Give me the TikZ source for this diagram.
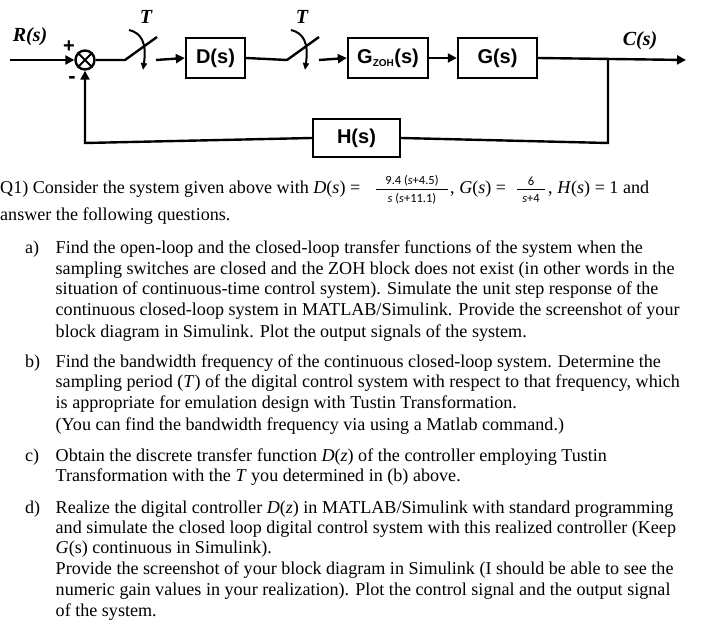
\documentclass[tikz,border=0pt]{standalone}
\usepackage{fontspec}
\setmainfont{Liberation Serif}
\newfontfamily\dsans{Liberation Sans}
\newfontfamily\fsans{Carlito}
\usetikzlibrary{arrows.meta}
\begin{document}
\begin{tikzpicture}[x=1pt,y=-1pt,
  blk/.style={draw,line width=2.4pt,minimum height=40pt,font=\dsans\bfseries\fontsize{20}{20}\selectfont,inner sep=0pt},
  wire/.style={line width=2.4pt},
  arr/.style={line width=2.4pt,-{Triangle[length=9pt,width=9pt]}},
  lab/.style={font=\bfseries\itshape\fontsize{20}{20}\selectfont},
  tl/.style={anchor=base west,inner sep=0pt,font=\fontsize{18.1}{21}\selectfont},
  fr/.style={inner sep=0pt,font=\fsans\fontsize{12.5}{12.5}\selectfont}]
\useasboundingbox (0,0) rectangle (705,631);
% diagram
\coordinate (in) at (10,60);
\node[draw,circle,line width=2.4pt,minimum size=19pt,inner sep=0pt] (sum) at (85,60) {};
\draw[line width=2pt] (sum.north west)--(sum.south east) (sum.north east)--(sum.south west);
\node[blk,minimum width=59pt] (D) at (215.5,58) {D(s)};
\node[blk,minimum width=80pt] (Gz) at (388,58) {G\textsubscript{\fontsize{10}{10}\selectfont ZOH}(s)};
\node[blk,minimum width=79pt] (G) at (497.5,58) {G(s)};
\node[blk,minimum width=87pt,minimum height=38pt] (H) at (356.5,138) {H(s)};
\coordinate (s1a) at (125,60); \coordinate (s1b) at (157,37); \coordinate (s1c) at (156,60);
\coordinate (s2a) at (287,60); \coordinate (s2b) at (319,37); \coordinate (s2c) at (319,60);
\coordinate (br) at (608,60); \coordinate (out) at (686,60);
\coordinate (fbr) at (608,143); \coordinate (fbl) at (85,143);
\draw[arr] (in) -- (sum.west);
\draw[wire] (sum.east) -- (s1a) -- (s1b);
\draw[line width=2pt,-{Triangle[length=7pt,width=6pt]}] (129,30) .. controls (141,33) and (147,42) .. (143,70);
\draw[arr] (s1c) -- (D.west);
\draw[wire] (D.east) -- (s2a) -- (s2b);
\draw[line width=2pt,-{Triangle[length=7pt,width=6pt]}] (291,30) .. controls (303,33) and (309,42) .. (305,70);
\draw[arr] (s2c) -- (Gz.west);
\draw[arr] (Gz.east) -- (G.west);
\draw[arr] (G.east) -- (out);
\draw[wire] (br) -- (fbr) -- (H.east);
\draw[arr] (H.west) -- (fbl) -- (sum.south);
\node[lab] (R) at (30,37) {R(s)};
\node[lab] (C) at (640,41) {C(s)};
\node[lab] (T1) at (146,17) {T};
\node[lab] (T2) at (302,17) {T};
\node[font=\dsans\bfseries\fontsize{20}{20}\selectfont] (plus) at (69,47) {+};
\node[font=\dsans\bfseries\fontsize{22}{22}\selectfont] (minus) at (72,80) {-};
% text
\node[tl] (q1) at (0,194) {Q1) Consider the system given above with \textit{D}(\textit{s}) =};
\node[fr] (n1) at (412,181) {9.4 (\textit{s}+4.5)};
\draw[line width=0.7pt] (376,189)--(448,189);
\node[fr] (d1) at (412,199) {\textit{s} (\textit{s}+11.1)};
\node[tl] (q1b) at (450,194) {, \textit{G}(\textit{s}) =};
\node[fr] (n2) at (531,181) {6};
\draw[line width=0.7pt] (517,189)--(545,189);
\node[fr] (d2) at (531,199) {\textit{s}+4};
\node[tl] (q1c) at (548,194) {, \textit{H}(\textit{s}) = 1 and};
\node[tl] (q2) at (0,221) {answer the following questions.};
\foreach \l/\y in {a)/254,b)/368,c)/461,d)/513}
  \node[tl] at (25,\y) {\l};
\foreach \t/\y in {
 {Find the open-loop and the closed-loop transfer functions of the system when the}/254,
 {sampling switches are closed and the ZOH block does not exist (in other words in the}/275,
 {situation of continuous-time control system). Simulate the unit step response of the}/295,
 {continuous closed-loop system in MATLAB/Simulink. Provide the screenshot of your}/316,
 {block diagram in Simulink. Plot the output signals of the system.}/338,
 {Find the bandwidth frequency of the continuous closed-loop system. Determine the}/368,
 {sampling period (\textit{T}) of the digital control system with respect to that frequency, which}/388,
 {is appropriate for emulation design with Tustin Transformation.}/409,
 {(You can find the bandwidth frequency via using a Matlab command.)}/430,
 {Obtain the discrete transfer function \textit{D}(\textit{z}) of the controller employing Tustin}/461,
 {Transformation with the \textit{T} you determined in (b) above.}/481,
 {Realize the digital controller \textit{D}(\textit{z}) in MATLAB/Simulink with standard programming}/513,
 {and simulate the closed loop digital control system with this realized controller (Keep}/533,
 {\textit{G}(s) continuous in Simulink).}/553,
 {Provide the screenshot of your block diagram in Simulink (I should be able to see the}/574,
 {numeric gain values in your realization). Plot the control signal and the output signal}/595,
 {of the system.}/616}
  \node[tl] at (55.5,\y) {\t};
\end{tikzpicture}
\end{document}
